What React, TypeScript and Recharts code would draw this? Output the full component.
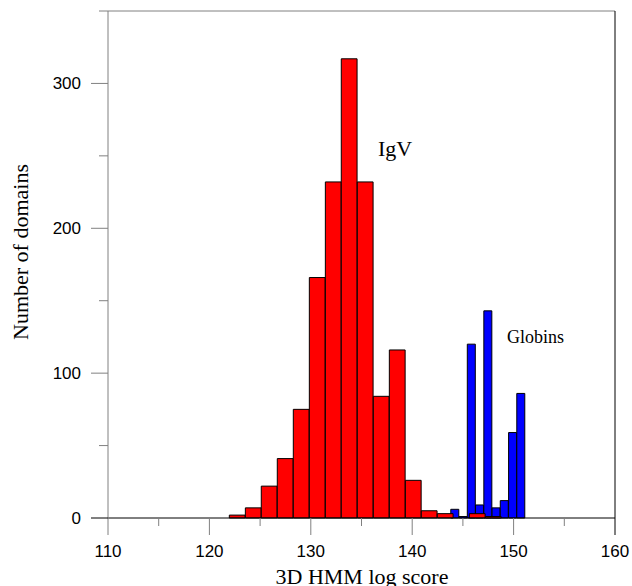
import React from "react";
import {
  ComposedChart,
  Bar,
  XAxis,
  YAxis,
  ReferenceLine,
  Customized
} from "recharts";

// Histogram of 3D HMM log scores: IgV domains (red, wide bins) vs globins (blue, narrow bins)

const xTicks = [110, 115, 120, 125, 130, 135, 140, 145, 150, 155, 160];
const xLabelled = [110, 120, 130, 140, 150, 160];
const yTicks = [0, 50, 100, 150, 200, 250, 300, 350];
const yLabelled = [0, 100, 200, 300];

// bin centres and counts
const igvScore = [122.75, 124.33, 125.9, 127.48, 129.06, 130.64, 132.22, 133.79, 135.37, 136.95, 138.53, 140.11, 141.68, 143.26, 144.84, 146.42, 148.0];
const igvCount = [2, 7, 22, 41, 75, 166, 232, 317, 232, 84, 116, 26, 5, 3, 0, 3, 1];

const globinScore = [144.21, 145.02, 145.84, 146.65, 147.47, 148.28, 149.09, 149.91, 150.72];
const globinCount = [6, 1, 120, 9, 143, 7, 12, 59, 86];

const data = [
  ...globinScore.map((s, i) => ({ xb: s, globins: globinCount[i] })),
  ...igvScore.map((s, i) => ({ xr: s, igv: igvCount[i] }))
];

const SANS = "'Liberation Sans', Arial, sans-serif";
const SERIF = "'Liberation Serif', 'Times New Roman', serif";
const GREY = "#808080";

function XTick(props: any) {
  const { x, y, payload } = props;
  const v = payload.value;
  const major = xLabelled.includes(v);
  return (
    <g>
      <line x1={x} x2={x} y1={y} y2={y + (major ? 17 : 8)} stroke={v === 160 ? "#000" : GREY} strokeWidth={1} />
      {major && (
        <text x={x} y={y + 39} textAnchor="middle" fontFamily={SANS} fontSize={17} fill="#000">
          {v}
        </text>
      )}
    </g>
  );
}

function YTick(props: any) {
  const { x, y, payload } = props;
  const v = payload.value;
  const major = yLabelled.includes(v);
  return (
    <g>
      <line x1={x - (major ? 17 : 9)} x2={x} y1={y} y2={y} stroke={v === 0 ? "#000" : GREY} strokeWidth={1} />
      {major && (
        <text x={x - 27} y={y + 6} textAnchor="end" fontFamily={SANS} fontSize={17} fill="#000">
          {v}
        </text>
      )}
    </g>
  );
}

function Annotations() {
  return (
    <g>
      <text x={378} y={156} fontFamily={SERIF} fontSize={22} fill="#000">IgV</text>
      <text x={507} y={343} fontFamily={SERIF} fontSize={18} fill="#000">Globins</text>
      <text x={362} y={584} textAnchor="middle" fontFamily={SERIF} fontSize={22} fill="#000">
        3D HMM log score
      </text>
      <text
        x={28}
        y={252}
        textAnchor="middle"
        transform="rotate(-90, 28, 252)"
        fontFamily={SERIF}
        fontSize={22}
        fill="#000"
      >
        Number of domains
      </text>
    </g>
  );
}

export default function App() {
  return (
    <div style={{ position: "absolute", left: 0, top: 0, background: "#fff" }}>
      <ComposedChart
        width={632}
        height={586}
        data={data}
        margin={{ top: 11, right: 17, left: 0, bottom: 0 }}
      >
        <XAxis
          xAxisId="a"
          dataKey="xr"
          type="number"
          domain={[110, 160]}
          ticks={xTicks}
          interval={0}
          height={68}
          tickSize={0}
          tickMargin={0}
          tickLine={false}
          axisLine={{ stroke: "#000", strokeWidth: 1 }}
          tick={<XTick />}
        />
        <XAxis xAxisId="b" dataKey="xb" type="number" domain={[110, 160]} height={0} hide />
        <YAxis
          type="number"
          domain={[0, 350]}
          ticks={yTicks}
          interval={0}
          width={108}
          tickSize={0}
          tickMargin={0}
          tickLine={false}
          axisLine={{ stroke: GREY, strokeWidth: 1 }}
          tick={<YTick />}
        />
        <ReferenceLine xAxisId="a" y={350} stroke={GREY} strokeWidth={1} />
        <ReferenceLine xAxisId="a" x={160} stroke="#000" strokeWidth={1} />
        <Bar
          xAxisId="b"
          dataKey="globins"
          barSize={8}
          fill="#0000ff"
          stroke="#000"
          strokeWidth={1}
          isAnimationActive={false}
        />
        <Bar
          xAxisId="a"
          dataKey="igv"
          barSize={15.8}
          fill="#ff0000"
          stroke="#000"
          strokeWidth={1}
          isAnimationActive={false}
        />
        <Customized component={Annotations} />
      </ComposedChart>
    </div>
  );
}
